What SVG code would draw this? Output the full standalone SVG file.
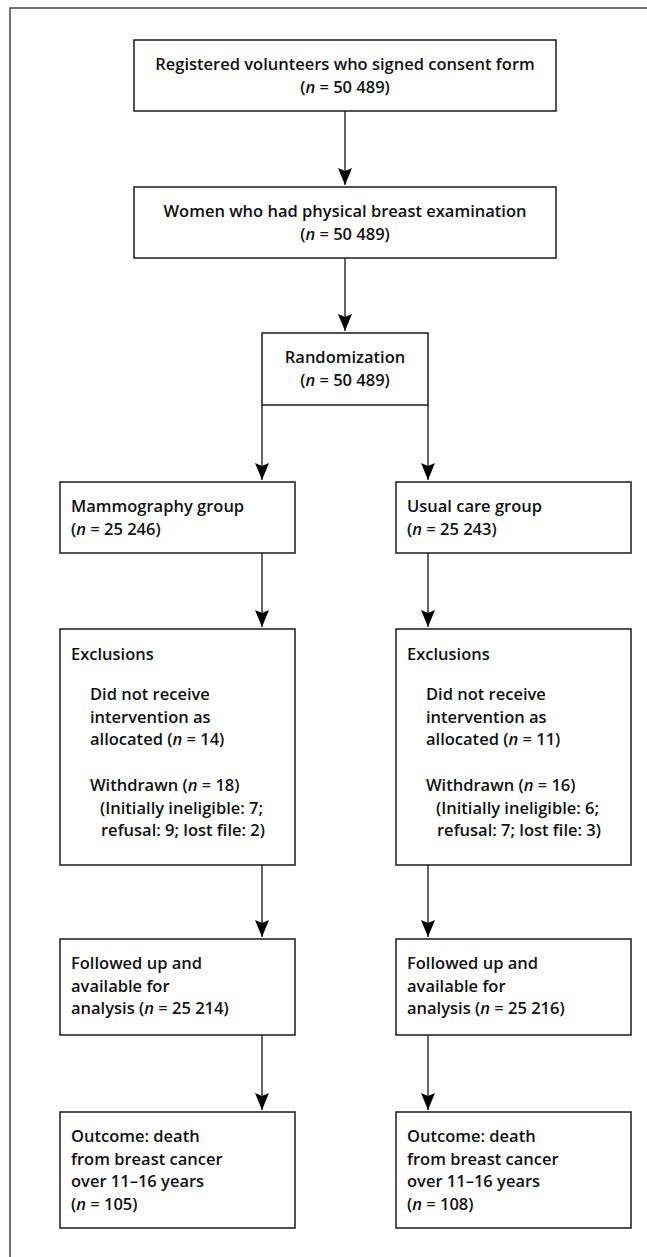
<svg xmlns="http://www.w3.org/2000/svg" width="647" height="1257" viewBox="0 0 647 1257">
<style>
  .box { fill: #ffffff; stroke: #1a1a1a; stroke-width: 1.5; }
  .frame { fill: none; stroke: #444444; stroke-width: 1.5; }
  .conn { fill: none; stroke: #333333; stroke-width: 1.5; }
  text { font-family: "Open Sans", "Liberation Sans", sans-serif; font-weight: 600; font-size: 16.5px; fill: #111111; }
  .c { text-anchor: middle; }
  .i { font-style: italic; }
</style>
<defs>
  <marker id="arr" markerUnits="userSpaceOnUse" markerWidth="20" markerHeight="20" viewBox="-1 -8 20 16" refX="17" refY="0" orient="auto">
    <path d="M0,-7 L17,0 L0,7 L3,0 Z" fill="#000000"/>
  </marker>
</defs>
<rect width="647" height="1257" fill="#ffffff"/>
<path class="frame" d="M10,1257 V8 H647"/>

<g id="connectors">
  <line class="conn" x1="345" y1="111" x2="345" y2="185" marker-end="url(#arr)"/>
  <line class="conn" x1="345" y1="258" x2="345" y2="331" marker-end="url(#arr)"/>
  <line class="conn" x1="262" y1="405" x2="262" y2="480" marker-end="url(#arr)"/>
  <line class="conn" x1="428" y1="405" x2="428" y2="480" marker-end="url(#arr)"/>
  <line class="conn" x1="262" y1="553" x2="262" y2="627" marker-end="url(#arr)"/>
  <line class="conn" x1="428" y1="553" x2="428" y2="627" marker-end="url(#arr)"/>
  <line class="conn" x1="262" y1="865" x2="262" y2="937" marker-end="url(#arr)"/>
  <line class="conn" x1="428" y1="865" x2="428" y2="937" marker-end="url(#arr)"/>
  <line class="conn" x1="262" y1="1035" x2="262" y2="1110" marker-end="url(#arr)"/>
  <line class="conn" x1="428" y1="1035" x2="428" y2="1110" marker-end="url(#arr)"/>
</g>

<g id="registered">
  <rect class="box" x="134" y="40" width="422" height="71"/>
  <text class="c" x="345" y="70">Registered volunteers who signed consent form</text>
  <text class="c" x="345" y="92.5">(<tspan class="i">n</tspan> = 50 489)</text>
</g>

<g id="examined">
  <rect class="box" x="134" y="187" width="422" height="71"/>
  <text class="c" x="345" y="217">Women who had physical breast examination</text>
  <text class="c" x="345" y="239.5">(<tspan class="i">n</tspan> = 50 489)</text>
</g>

<g id="randomization">
  <rect class="box" x="262" y="333" width="166" height="72"/>
  <text class="c" x="345" y="363">Randomization</text>
  <text class="c" x="345" y="385.5">(<tspan class="i">n</tspan> = 50 489)</text>
</g>

<g id="mammography">
  <rect class="box" x="60" y="482" width="235" height="71"/>
  <text x="71" y="512">Mammography group</text>
  <text x="71" y="534.5">(<tspan class="i">n</tspan> = 25 246)</text>
</g>

<g id="usualcare">
  <rect class="box" x="396" y="482" width="235" height="71"/>
  <text x="407" y="512">Usual care group</text>
  <text x="407" y="534.5">(<tspan class="i">n</tspan> = 25 243)</text>
</g>

<g id="exclusions-mammo">
  <rect class="box" x="60" y="629" width="235" height="236"/>
  <text x="71" y="660">Exclusions</text>
  <text x="90" y="700">Did not receive</text>
  <text x="90" y="722.5">intervention as</text>
  <text x="90" y="745">allocated (<tspan class="i">n</tspan> = 14)</text>
  <text x="90" y="791">Withdrawn (<tspan class="i">n</tspan> = 18)</text>
  <text x="100" y="813.5">(Initially ineligible: 7;</text>
  <text x="101" y="836">refusal: 9; lost file: 2)</text>
</g>

<g id="exclusions-usual">
  <rect class="box" x="396" y="629" width="235" height="236"/>
  <text x="407" y="660">Exclusions</text>
  <text x="426" y="700">Did not receive</text>
  <text x="426" y="722.5">intervention as</text>
  <text x="426" y="745">allocated (<tspan class="i">n</tspan> = 11)</text>
  <text x="426" y="791">Withdrawn (<tspan class="i">n</tspan> = 16)</text>
  <text x="436" y="813.5">(Initially ineligible: 6;</text>
  <text x="437" y="836">refusal: 7; lost file: 3)</text>
</g>

<g id="followed-mammo">
  <rect class="box" x="60" y="939" width="235" height="96"/>
  <text x="71" y="969">Followed up and</text>
  <text x="71" y="991.5">available for</text>
  <text x="71" y="1014">analysis (<tspan class="i">n</tspan> = 25 214)</text>
</g>

<g id="followed-usual">
  <rect class="box" x="396" y="939" width="235" height="96"/>
  <text x="407" y="969">Followed up and</text>
  <text x="407" y="991.5">available for</text>
  <text x="407" y="1014">analysis (<tspan class="i">n</tspan> = 25 216)</text>
</g>

<g id="outcome-mammo">
  <rect class="box" x="60" y="1112" width="235" height="116"/>
  <text x="71" y="1142">Outcome: death</text>
  <text x="71" y="1164.5">from breast cancer</text>
  <text x="71" y="1187">over 11–16 years</text>
  <text x="71" y="1209.5">(<tspan class="i">n</tspan> = 105)</text>
</g>

<g id="outcome-usual">
  <rect class="box" x="396" y="1112" width="235" height="116"/>
  <text x="407" y="1142">Outcome: death</text>
  <text x="407" y="1164.5">from breast cancer</text>
  <text x="407" y="1187">over 11–16 years</text>
  <text x="407" y="1209.5">(<tspan class="i">n</tspan> = 108)</text>
</g>
</svg>
